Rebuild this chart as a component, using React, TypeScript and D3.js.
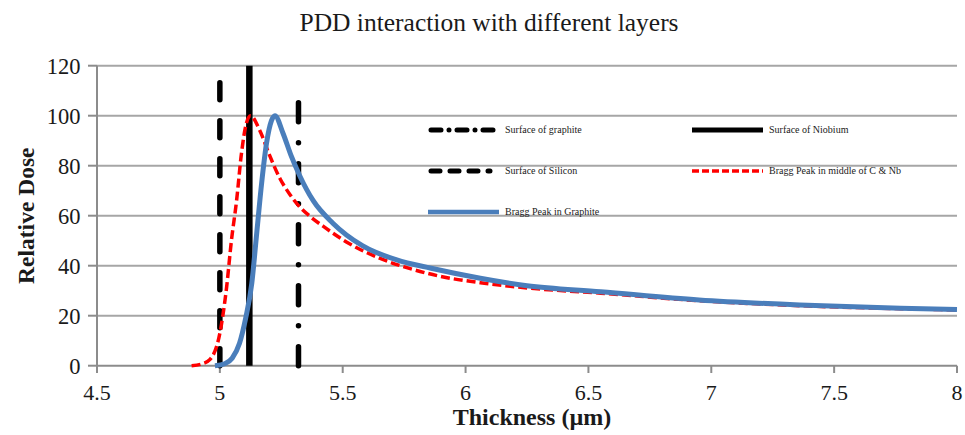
import React from "react";
import * as d3 from "d3";

const xTicks = [4.5, 5, 5.5, 6, 6.5, 7, 7.5, 8];
const yTicks = [0, 20, 40, 60, 80, 100, 120];

const blueX = [4.98, 5.02, 5.05, 5.08, 5.105, 5.13, 5.15, 5.17, 5.19, 5.21, 5.224, 5.257, 5.29, 5.325, 5.38, 5.46, 5.58, 5.72, 5.86, 6.06, 6.25, 6.55, 6.95, 7.36, 7.77, 8];
const blueY = [0, 0.8, 3, 9, 19, 33, 53, 73, 89, 98, 100, 93, 84, 76, 66, 57, 48, 42.3, 39, 35, 32, 29.6, 26.3, 24.3, 23, 22.5];

const redX = [4.885, 4.93, 4.96, 5.0, 5.027, 5.047, 5.068, 5.088, 5.108, 5.125, 5.163, 5.203, 5.244, 5.285, 5.325, 5.37, 5.42, 5.515, 5.65, 5.786, 5.92, 6.06, 6.25, 6.55, 6.95, 7.36, 7.77, 8];
const redY = [0, 0.8, 2.5, 13, 31, 50, 66, 85, 97, 100, 94, 84, 75, 68.5, 63.5, 59.5, 55.8, 49.5, 43, 38.5, 35.3, 33.2, 31.1, 29, 26, 24, 22.8, 22.3];

const surfaceNames = ["Surface of Silicon", "Surface of Niobium", "Surface of graphite"];
const surfaceX = [5.0, 5.12, 5.32];
const surfaceTop = [116, 120, 113];

export default function App() {
  const W = 965, H = 435;
  const x = d3.scaleLinear().domain([4.5, 8]).range([97, 957]);
  const y = d3.scaleLinear().domain([0, 120]).range([365.7, 65.7]);
  const line = d3
    .line<[number, number]>()
    .x((d) => x(d[0]))
    .y((d) => y(d[1]))
    .curve(d3.curveMonotoneX);
  const blue: [number, number][] = blueX.map((v, i) => [v, blueY[i]]);
  const red: [number, number][] = redX.map((v, i) => [v, redY[i]]);
  const grid = "#a6a6a6";
  const serif = "Liberation Serif";

  const surfStyles = [
    { dash: "17 21", width: 5.5, cap: "round" as const },
    { dash: "", width: 6.5, cap: "butt" as const },
    { dash: "19 21 0 21", width: 5.5, cap: "round" as const },
  ];

  const legend = [
    { label: "Surface of graphite", lx: 428, ly: 130, kind: "graphite" },
    { label: "Surface of Niobium", lx: 692, ly: 130, kind: "niobium" },
    { label: "Surface of Silicon", lx: 428, ly: 171, kind: "silicon" },
    { label: "Bragg Peak in middle of C & Nb", lx: 692, ly: 171, kind: "red" },
    { label: "Bragg Peak in Graphite", lx: 428, ly: 212, kind: "blue" },
  ];

  const legendLine = (kind: string, lx: number, ly: number) => {
    if (kind === "graphite")
      return <line x1={lx + 3} x2={lx + 66} y1={ly} y2={ly} stroke="#000" strokeWidth={5} strokeDasharray="10 8 0 8" strokeLinecap="round" />;
    if (kind === "niobium")
      return <line x1={lx} x2={lx + 71} y1={ly} y2={ly} stroke="#000" strokeWidth={5} />;
    if (kind === "silicon")
      return <line x1={lx + 3} x2={lx + 62} y1={ly} y2={ly} stroke="#000" strokeWidth={5} strokeDasharray="9 10" strokeLinecap="round" />;
    if (kind === "red")
      return <line x1={lx} x2={lx + 71} y1={ly} y2={ly} stroke="#ff0000" strokeWidth={3.5} strokeDasharray="7 3" />;
    return <line x1={lx} x2={lx + 71} y1={ly} y2={ly} stroke="#4a7ebb" strokeWidth={4.5} />;
  };

  return (
    <div style={{ position: "absolute", left: 0, top: 0 }}>
      <svg width={W} height={H} style={{ display: "block", background: "#fff", fontFamily: serif }}>
        <text x={489} y={31} textAnchor="middle" style={{ fontFamily: serif }} fontSize={25.5} fill="#1a1a1a">
          PDD interaction with different layers
        </text>
        {yTicks.map((t) => (
          <g key={"y" + t}>
            {t > 0 && <line x1={97} x2={957} y1={y(t)} y2={y(t)} stroke={grid} strokeWidth={2} />}
            <line x1={88} x2={97} y1={y(t)} y2={y(t)} stroke="#8c8c8c" strokeWidth={2} />
            <text x={80.5} y={y(t) + 7.8} textAnchor="end" style={{ fontFamily: serif }} fontSize={22.5} fill="#1a1a1a">
              {t}
            </text>
          </g>
        ))}
        {xTicks.map((t) => (
          <g key={"x" + t}>
            <line x1={x(t)} x2={x(t)} y1={365.7} y2={373} stroke="#8c8c8c" strokeWidth={2} />
            <text x={x(t)} y={400} textAnchor="middle" style={{ fontFamily: serif }} fontSize={22} fill="#1a1a1a">
              {t}
            </text>
          </g>
        ))}
        <line x1={97} x2={97} y1={65.7} y2={366.7} stroke="#8c8c8c" strokeWidth={2} />
        <line x1={96} x2={957} y1={365.7} y2={365.7} stroke="#8c8c8c" strokeWidth={2} />

        {surfaceX.map((sx, i) => (
          <line
            key={surfaceNames[i]}
            x1={x(sx)}
            x2={x(sx)}
            y1={y(0)}
            y2={y(surfaceTop[i])}
            stroke="#000"
            strokeWidth={surfStyles[i].width}
            strokeDasharray={surfStyles[i].dash || undefined}
            strokeLinecap={surfStyles[i].cap}
          />
        ))}

        <path d={line(red) || ""} fill="none" stroke="#ff0000" strokeWidth={3.5} strokeDasharray="9 4" />
        <path d={line(blue) || ""} fill="none" stroke="#4a7ebb" strokeWidth={5} strokeLinejoin="round" />

        {legend.map((l) => (
          <g key={l.label}>
            {legendLine(l.kind, l.lx, l.ly)}
            <text x={l.lx + 77} y={l.ly + 3} style={{ fontFamily: serif }} fontSize={10} fill="#1a1a1a">
              {l.label}
            </text>
          </g>
        ))}

        <text
          transform={`translate(34, 215.7) rotate(-90)`}
          textAnchor="middle"
          style={{ fontFamily: serif }}
          fontSize={23.5}
          fontWeight="bold"
          fill="#1a1a1a"
        >
          Relative Dose
        </text>
        <text x={532} y={425} textAnchor="middle" style={{ fontFamily: serif }} fontSize={24} fontWeight="bold" fill="#1a1a1a">
          Thickness (µm)
        </text>
      </svg>
    </div>
  );
}
